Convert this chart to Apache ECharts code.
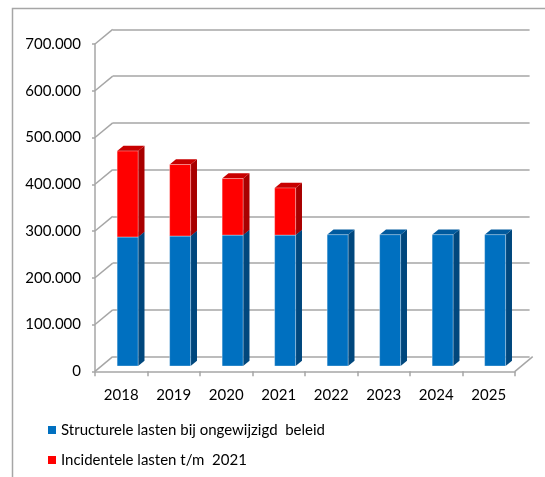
<!DOCTYPE html>
<html>
<head>
<meta charset="utf-8">
<script src="https://cdn.jsdelivr.net/npm/echarts@6/dist/echarts.min.js"></script>
<style>
  html, body { margin: 0; padding: 0; background: #fff; }
  #chart { width: 545px; height: 477px; }
</style>
</head>
<body>
<div id="chart"></div>
<script>
// data
const years = ['2018', '2019', '2020', '2021', '2022', '2023', '2024', '2025'];
const structureel = [276000, 278000, 280000, 280000, 281000, 281000, 281000, 281000];
const incidenteel = [184000, 153000, 121000, 101000, 0, 0, 0, 0];
const yTicks = [0, 100000, 200000, 300000, 400000, 500000, 600000, 700000];
const seriesNames = ['Structurele lasten bij ongewijzigd  beleid', 'Incidentele lasten t/m  2021'];

// 3d look: depth of the floor in pixels, bar sits between F0 and F1 of it
const DX = 17.7, DY = -14.6;
const F0 = 0.36, F1 = 0.72;
const GRID_COLOR = '#a6a6a6';
const FONT = 'Lato';

const fmt = v => String(v).replace(/\B(?=(\d{3})+(?!\d))/g, '.');

const blue = { front: '#0070c0', side: '#00477d', top: '#005a9e' };
const red = { front: '#ff0000', side: '#a80000', top: '#c80000' };

function barItem(col) {
  return function (params, api) {
    const i = api.value(0), lo = api.value(1), hi = api.value(2);
    if (!(hi > lo)) return;
    const band = api.size([1, 0])[0];
    const w = band * 0.4;
    const c = api.coord([i, lo]), t = api.coord([i, hi]);
    const xL = c[0] - w / 2 + F0 * DX, xR = xL + w;
    const yB = c[1] + F0 * DY, yT = t[1] + F0 * DY;
    const dx = (F1 - F0) * DX, dy = (F1 - F0) * DY;
    return {
      type: 'group',
      children: [
        { type: 'polygon', shape: { points: [[xR, yT], [xR + dx, yT + dy], [xR + dx, yB + dy], [xR, yB]] }, style: { fill: col.side } },
        { type: 'polygon', shape: { points: [[xL, yT], [xL + dx, yT + dy], [xR + dx, yT + dy], [xR, yT]] }, style: { fill: col.top } },
        { type: 'rect', shape: { x: xL, y: yT, width: w, height: yB - yT }, style: { fill: col.front, stroke: 'rgba(255,255,255,0.35)', lineWidth: 1 } }
      ]
    };
  };
}

// diagonal edges of the side wall and floor
function edgeItem(params, api) {
  const v = api.value(1);
  const band = api.size([1, 0])[0];
  const p = api.coord([0, v]);
  const xl = p[0] - band / 2;
  const kids = [
    { type: 'line', shape: { x1: xl, y1: p[1], x2: xl + DX, y2: p[1] + DY }, style: { stroke: GRID_COLOR, lineWidth: 1.5 } }
  ];
  if (v === 0) {
    const q = api.coord([years.length - 1, 0]);
    const xr = q[0] + band / 2;
    kids.push({ type: 'line', shape: { x1: xr, y1: q[1], x2: xr + DX, y2: q[1] + DY }, style: { stroke: GRID_COLOR, lineWidth: 1.5 } });
  }
  return { type: 'group', children: kids };
}

const chart = echarts.init(document.getElementById('chart'));

const frontGrid = { left: 95, right: 30, top: 44, bottom: 105.7 };

chart.setOption({
  animation: false,
  textStyle: { fontFamily: FONT },
  graphic: [{
    type: 'rect', silent: true, z: -10,
    shape: { x: 12.5, y: 8.5, width: 700, height: 700 },
    style: { fill: 'none', stroke: '#a6a6a6', lineWidth: 1.5 }
  }],
  legend: {
    orient: 'vertical',
    left: 43,
    top: 417,
    icon: 'rect',
    itemWidth: 8,
    itemHeight: 8,
    itemGap: 14,
    textStyle: { fontSize: 15, lineHeight: 16, color: '#000', fontFamily: FONT },
    data: seriesNames
  },
  grid: [
    frontGrid,
    {
      left: frontGrid.left + DX,
      right: frontGrid.right + DY,
      top: frontGrid.top + DY,
      bottom: frontGrid.bottom - DY
    }
  ],
  xAxis: [
    {
      gridIndex: 0, type: 'category', data: years,
      axisLine: { lineStyle: { color: GRID_COLOR, width: 1.5 } },
      axisTick: { show: true, length: 5, lineStyle: { color: GRID_COLOR, width: 1.5 } },
      axisLabel: { color: '#000', fontSize: 15, margin: 16, fontFamily: FONT }
    },
    {
      gridIndex: 1, type: 'category', data: years, show: false
    }
  ],
  yAxis: [
    {
      gridIndex: 0, type: 'value', min: 0, max: 700000, interval: 100000,
      axisLine: { show: true, lineStyle: { color: GRID_COLOR, width: 1.5 } },
      axisTick: { show: true, length: 3, lineStyle: { color: GRID_COLOR, width: 1.5 } },
      splitLine: { show: false },
      axisLabel: { color: '#000', fontSize: 15, margin: 14, formatter: fmt, fontFamily: FONT }
    },
    {
      gridIndex: 1, type: 'value', min: 0, max: 700000, interval: 100000,
      axisLine: { show: false }, axisTick: { show: false }, axisLabel: { show: false },
      splitLine: { show: true, lineStyle: { color: GRID_COLOR, width: 1.5 } }
    }
  ],
  series: [
    {
      type: 'custom', name: 'edges', silent: true, z: 1,
      xAxisIndex: 0, yAxisIndex: 0,
      renderItem: edgeItem,
      data: yTicks.map(v => [0, v])
    },
    {
      type: 'custom', name: seriesNames[0], z: 3,
      xAxisIndex: 0, yAxisIndex: 0,
      itemStyle: { color: blue.front },
      renderItem: barItem(blue),
      encode: { x: 0, y: 2 },
      data: structureel.map((v, i) => [i, 0, v])
    },
    {
      type: 'custom', name: seriesNames[1], z: 4,
      xAxisIndex: 0, yAxisIndex: 0,
      itemStyle: { color: red.front },
      renderItem: barItem(red),
      encode: { x: 0, y: 2 },
      data: incidenteel.map((v, i) => [i, structureel[i], structureel[i] + v])
    }
  ]
});
</script>
</body>
</html>
